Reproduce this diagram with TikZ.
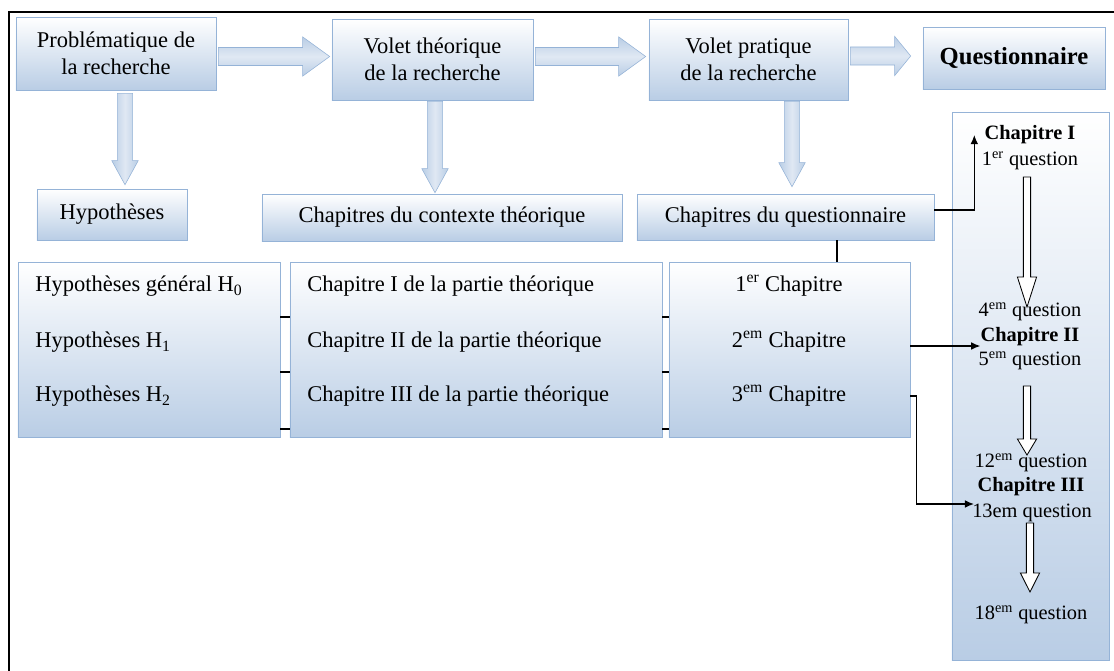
\documentclass[tikz,border=0pt]{standalone}
\usepackage{fontspec}
\setmainfont{Liberation Serif}
\usetikzlibrary{calc,arrows.meta}

\definecolor{boxline}{RGB}{149,179,215}
\definecolor{boxfill}{RGB}{185,205,229}

\tikzset{
  box/.style={draw=boxline, top color=white, bottom color=boxfill, inner sep=0pt,
    align=center, font=\fontsize{16}{19}\selectfont},
  row/.style={inner sep=0pt, font=\fontsize{16}{19}\selectfont},
  qtext/.style={inner sep=0pt, font=\fontsize{14.5}{17}\selectfont},
  conn/.style={line width=0.9pt, -{Latex[length=6.5pt,width=5.5pt]}},
  stub/.style={line width=0.9pt},
  ba shaft/.store in=\bashaft, ba head/.store in=\bahead, ba tip/.store in=\batip,
  ba shaft=0.2cm, ba head=0.5cm, ba tip=0.6cm,
  blockarrow/.style={to path={
    (\tikztostart) coordinate (ba-s) (\tikztotarget) coordinate (ba-t)
    ($(ba-s)!\bashaft!90:(ba-t)$)
    -- ($(ba-t)!\batip!(ba-s)!\bashaft!90:(ba-t)$)
    -- ($(ba-t)!\batip!(ba-s)!\bahead!90:(ba-t)$)
    -- (ba-t)
    -- ($(ba-t)!\batip!(ba-s)!\bahead!-90:(ba-t)$)
    -- ($(ba-t)!\batip!(ba-s)!\bashaft!-90:(ba-t)$)
    -- ($(ba-s)!\bashaft!-90:(ba-t)$) -- cycle}},
  harrow/.style={blockarrow, draw=boxline, top color=boxfill, bottom color=boxfill,
    middle color=white!55!boxfill, ba shaft=0.225cm, ba head=0.49cm, ba tip=0.675cm},
  varrow/.style={blockarrow, draw=boxline, left color=boxfill, right color=boxfill,
    middle color=white!55!boxfill, ba shaft=0.19cm, ba head=0.33cm, ba tip=0.6cm},
  warrow/.style={blockarrow, draw=black, fill=white, line width=0.6pt,
    ba shaft=0.09cm, ba head=0.24cm, ba tip=0.75cm}
}

\begin{document}
\begin{tikzpicture}[x=0.025cm, y=-0.025cm]
  \useasboundingbox (0,0) rectangle (1114,671);
  \draw[line width=1.2pt] (9,671) -- (9,12) -- (1114,12);

  % top row
  \node[box, minimum width=5cm, minimum height=1.825cm] (prob) at (116,53.5) {Problématique de\\la recherche};
  \node[box, minimum width=5.025cm, minimum height=2.025cm] (volt) at (432.5,59.5) {Volet théorique\\de la recherche};
  \node[box, minimum width=4.975cm, minimum height=2.025cm] (volp) at (748.5,59.5) {Volet pratique\\de la recherche};
  \node[box, minimum width=4.55cm, minimum height=1.55cm,
    font=\fontsize{17.5}{21}\selectfont\bfseries] (quest) at (1014,58) {Questionnaire};

  % second row
  \node[box, minimum width=3.75cm, minimum height=1.275cm] (hyp) at (112,214.5) {Hypothèses};
  \node[box, minimum width=9cm, minimum height=1.175cm] (ctx) at (442,217.5) {Chapitres du contexte théorique};
  \node[box, minimum width=7.425cm, minimum height=1.15cm] (chapq) at (785.5,217) {Chapitres du questionnaire};

  % tables
  \node[box, minimum width=6.55cm, minimum height=4.375cm] (tabhyp) at (149,349.5) {};
  \node[box, minimum width=9.3cm, minimum height=4.375cm] (tabctx) at (476,349.5) {};
  \node[box, minimum width=6.025cm, minimum height=4.375cm] (tabq) at (789.5,349.5) {};
  \node[box, minimum width=3.925cm, minimum height=13.7cm] (col) at (1030.5,386) {};

  \node[row, anchor=west] (h0) at (35,286) {Hypothèses général H\textsubscript{0}};
  \node[row, anchor=west] (h1) at (35,342) {Hypothèses H\textsubscript{1}};
  \node[row, anchor=west] (h2) at (35,396) {Hypothèses H\textsubscript{2}};
  \node[row, anchor=west] (t1) at (307,286) {Chapitre I de la partie théorique};
  \node[row, anchor=west] (t2) at (307,342) {Chapitre II de la partie théorique};
  \node[row, anchor=west] (t3) at (307,396) {Chapitre III de la partie théorique};
  \node[row] (q1) at (789,286) {1\textsuperscript{er} Chapitre};
  \node[row] (q2) at (789,342) {2\textsuperscript{em} Chapitre};
  \node[row] (q3) at (789,396) {3\textsuperscript{em} Chapitre};

  % questionnaire column
  \node[qtext, font=\fontsize{14.5}{17}\selectfont\bfseries] (c1) at (1030,135) {Chapitre I};
  \node[qtext] (n1) at (1030,161) {1\textsuperscript{er} question};
  \node[qtext] (n4) at (1030,312) {4\textsuperscript{em} question};
  \node[qtext, font=\fontsize{14.5}{17}\selectfont\bfseries] (c2) at (1030,337) {Chapitre II};
  \node[qtext] (n5) at (1030,361) {5\textsuperscript{em} question};
  \node[qtext] (n12) at (1031,463) {12\textsuperscript{em} question};
  \node[qtext, font=\fontsize{14.5}{17}\selectfont\bfseries] (c3) at (1031,487) {Chapitre III};
  \node[qtext] (n13) at (1032,513) {13em question};
  \node[qtext] (n18) at (1031,615) {18\textsuperscript{em} question};

  % block arrows
  \draw[harrow] ($(prob.east)+(2,3)$) to ($(prob.east -| volt.west)+(-2,3)$);
  \draw[harrow] ($(volt.east)+(2,-3)$) to ($(volt.east -| volp.west)+(-3,-3)$);
  \draw[harrow, ba tip=0.4cm] ($(volp.east)+(2,-3.5)$) to ($(volp.east -| quest.west)+(-12,-3.5)$);
  \draw[varrow] ($(prob.south)+(9,3)$) to ($(prob.south |- hyp.north)+(9,-4)$);
  \draw[varrow] ($(volt.south)+(2.5,1)$) to ($(volt.south |- ctx.north)+(2.5,-1)$);
  \draw[varrow] ($(volp.south)+(43.5,1)$) to ($(volp.south |- chapq.north)+(43.5,-7)$);

  \draw[warrow] ($(n1.center)+(-3,16)$) to ($(n4.center)+(-3,-5)$);
  \draw[warrow, ba tip=0.4cm] ($(n5.center)+(-3,25)$) to ($(n12.center)+(-4,-8)$);
  \draw[warrow, ba tip=0.475cm] ($(n13.center)+(-2,10)$) to ($(n18.center)+(-1,-23)$);

  % connectors
  \foreach \y in {317,372,429} {
    \draw[stub] (tabhyp.east |- 0,\y) -- (tabctx.west |- 0,\y);
    \draw[stub] (tabctx.east |- 0,\y) -- (tabq.west |- 0,\y);
  }
  \draw[stub] (chapq.south -| 837,0) -- (tabq.north -| 837,0);
  \coordinate (c2in) at ($(c2.west)+(0,9)$);
  \coordinate (c3in) at ($(n13.west)+(2,-9)$);
  \draw[conn] ($(chapq.east)+(0,-7)$) -| ($(c1.west)+(-10,0)$);
  \draw[conn] (tabq.east |- c2in) -- (c2in);
  \draw[conn] (tabq.east |- q3) -- ++(6,0) |- (c3in);
\end{tikzpicture}
\end{document}
